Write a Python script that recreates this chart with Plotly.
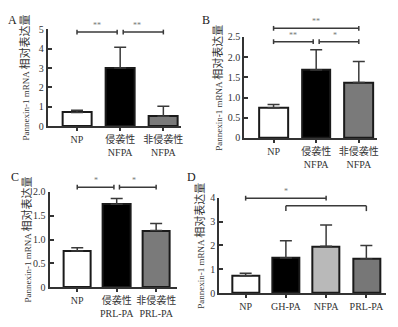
import plotly.graph_objects as go

# ---------------- data ----------------
cats_A = ["NP", "侵袭性<br>NFPA", "非侵袭性<br>NFPA"]
mean_A = [0.72, 3.0, 0.52]
sd_A = [0.11, 1.07, 0.52]

cats_B = ["NP", "侵袭性<br>NFPA", "非侵袭性<br>NFPA"]
mean_B = [0.75, 1.68, 1.37]
sd_B = [0.08, 0.50, 0.52]

cats_C = ["NP", "侵袭性<br>PRL-PA", "非侵袭性<br>PRL-PA"]
mean_C = [0.76, 1.74, 1.19]
sd_C = [0.07, 0.12, 0.15]

cats_D = ["NP", "GH-PA", "NFPA", "PRL-PA"]
mean_D = [0.73, 1.47, 1.96, 1.43]
sd_D = [0.10, 0.72, 0.90, 0.56]

ticks_A = [0, 1, 2, 3, 4, 5]
ticklabels_A = ["0", "1", "2", "3", "4", "5"]
ticks_B = [0, 0.5, 1.0, 1.5, 2.0, 2.5]
ticklabels_B = ["0", "0.5", "1.0", "1.5", "2.0", "2.5"]
ticks_C = [0, 0.5, 1.0, 1.5, 2.0]
ticklabels_C = ["0", "0.5", "1.0", "1.5", "2.0"]
ticks_D = [0, 1, 2, 3, 4]
ticklabels_D = ["0", "1", "2", "3", "4"]

# significance brackets: (start cat, end cat, height, label, style, trim start, trim end)
sig_A = [(0, 1, 4.85, "**", "cap", 0, 1), (1, 2, 4.85, "**", "cap", 1, 0)]
sig_B = [(0, 2, 2.71, "**", "cap", 0, 0), (0, 1, 2.38, "**", "cap", 0, 1), (1, 2, 2.38, "*", "cap", 1, 0)]
sig_C = [(0, 1, 2.10, "*", "cap", 0, 1), (1, 2, 2.10, "*", "cap", 1, 0)]
sig_D = [(0, 2, 3.98, "*", "cap", 0, 0), (1, 3, 3.66, "", "down", 0, 0)]

colors_3 = ["#ffffff", "#000000", "#7a7a7a"]
colors_D = ["#ffffff", "#000000", "#b9b9b9", "#777777"]

y_title = "Pannexin-1 mRNA <span style='font-size:11px'>相对表达量</span>"

FONT = "Liberation Serif, Noto Sans CJK SC"
W, H = 398, 327

panels = [
    dict(name="A", cats=cats_A, mean=mean_A, sd=sd_A, colors=colors_3, ticks=ticks_A, tl=ticklabels_A,
         sig=sig_A, xpx=(48, 182), ypx=(24, 125), xr=(-0.68, 2.40), bw=0.67, title_x=25, letter=(6, 15)),
    dict(name="B", cats=cats_B, mean=mean_B, sd=sd_B, colors=colors_3, ticks=ticks_B, tl=ticklabels_B,
         sig=sig_B, xpx=(246, 380), ypx=(32, 137), xr=(-0.69, 2.43), bw=0.67, title_x=219, letter=(202, 15)),
    dict(name="C", cats=cats_C, mean=mean_C, sd=sd_C, colors=colors_3, ticks=ticks_C, tl=ticklabels_C,
         sig=sig_C, xpx=(50, 178), ypx=(193, 292), xr=(-0.70, 2.52), bw=0.70, title_x=27, letter=(9, 178)),
    dict(name="D", cats=cats_D, mean=mean_D, sd=sd_D, colors=colors_D, ticks=ticks_D, tl=ticklabels_D,
         sig=sig_D, xpx=(221, 389), ypx=(199, 298), xr=(-0.654, 3.49), bw=0.67, title_x=201, letter=(186, 178)),
]

fig = go.Figure()
shapes = []
annotations = []
line_col = "#3a3a3a"
TRIM = 0.07

for i, p in enumerate(panels):
    k = "" if i == 0 else str(i + 1)
    xa, ya = "x" + k, "y" + k
    n = len(p["cats"])
    xs = list(range(n))
    yr = (p["ticks"][0], p["ticks"][-1])
    xr = p["xr"]

    fig.add_trace(go.Bar(
        x=xs, y=p["mean"], xaxis=xa, yaxis=ya, width=p["bw"],
        marker=dict(color=p["colors"], line=dict(color="#1a1a1a", width=2)),
        error_y=dict(type="data", symmetric=False, array=p["sd"], arrayminus=[0] * n,
                     color=line_col, thickness=1.5, width=6),
        showlegend=False, hoverinfo="skip",
    ))

    fig.update_layout(**{
        ("xaxis" + k): dict(
            domain=[p["xpx"][0] / W, p["xpx"][1] / W], range=list(xr), anchor=ya,
            tickvals=xs, ticktext=p["cats"], showline=True, linecolor="#333", linewidth=2,
            ticks="outside", ticklen=3, tickwidth=1.5, tickcolor="#333", showgrid=False, zeroline=False,
            tickfont=dict(family=FONT, size=10, color="#333"),
        ),
        ("yaxis" + k): dict(
            domain=[1 - p["ypx"][1] / H, 1 - p["ypx"][0] / H], range=list(yr), anchor=xa,
            tickvals=p["ticks"], ticktext=p["tl"], showline=True, linecolor="#333", linewidth=2,
            ticks="inside", ticklen=4, tickwidth=2, tickcolor="#333", showgrid=False, zeroline=False,
            tickfont=dict(family=FONT, size=10, color="#333"),
        ),
    })

    x_span = xr[1] - xr[0]
    y_span = yr[1] - yr[0]
    xd, yd = xa + " domain", ya + " domain"
    px_y = (p["ypx"][1] - p["ypx"][0]) / y_span  # px per unit
    cap = 2.5 / px_y
    for (a, b, h, lab, style, t0, t1) in p["sig"]:
        x0 = a + TRIM * t0
        x1 = b - TRIM * t1
        X0 = (x0 - xr[0]) / x_span
        X1 = (x1 - xr[0]) / x_span
        Yh = (h - yr[0]) / y_span
        shapes.append(dict(type="line", xref=xd, yref=yd, x0=X0, x1=X1, y0=Yh, y1=Yh,
                           line=dict(color=line_col, width=1.5)))
        if style == "cap":
            ylo, yhi = (h - cap - yr[0]) / y_span, (h + cap - yr[0]) / y_span
        else:
            ylo, yhi = (h - 2.2 * cap - yr[0]) / y_span, Yh
        for XX in (X0, X1):
            shapes.append(dict(type="line", xref=xd, yref=yd, x0=XX, x1=XX, y0=ylo, y1=yhi,
                               line=dict(color=line_col, width=1.5)))
        if lab:
            annotations.append(dict(xref=xd, yref=yd, x=(X0 + X1) / 2, y=Yh, yanchor="bottom",
                                    text=lab, showarrow=False,
                                    font=dict(family=FONT, size=8, color="#777")))

    # y-axis title
    annotations.append(dict(xref="paper", yref=yd, x=p["title_x"] / W, y=0.5, xanchor="center", yanchor="middle",
                            text=y_title, textangle=-90, showarrow=False,
                            font=dict(family=FONT, size=9, color="#333")))
    # panel letter
    annotations.append(dict(xref="paper", yref="paper", x=p["letter"][0] / W, y=1 - p["letter"][1] / H,
                            xanchor="left", yanchor="middle", text=p["name"], showarrow=False,
                            font=dict(family=FONT, size=12, color="#222")))

fig.update_layout(
    width=W, height=H, margin=dict(l=0, r=0, t=0, b=0),
    paper_bgcolor="white", plot_bgcolor="white",
    shapes=shapes, annotations=annotations, bargap=0,
    font=dict(family=FONT, color="#333"),
)

fig.write_html("out.html", config={"displayModeBar": False},
               post_script="document.body.style.margin='0';document.body.style.padding='0';")
